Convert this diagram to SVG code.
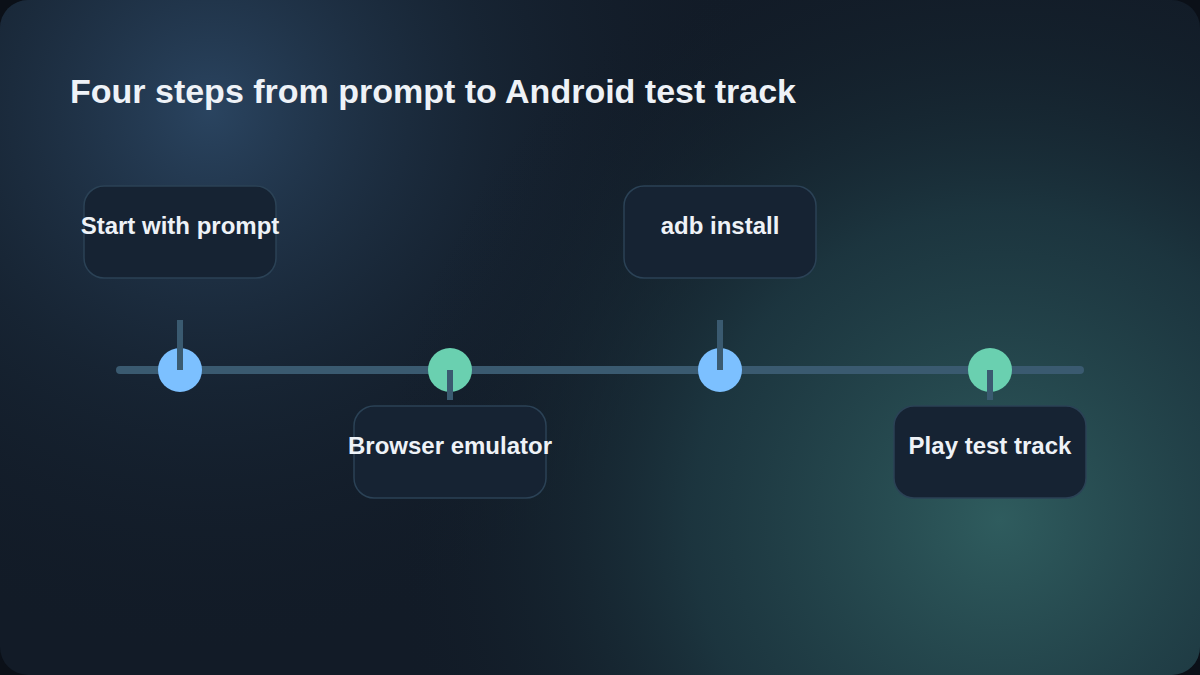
<svg xmlns="http://www.w3.org/2000/svg" width="1200" height="675" viewBox="0 0 1200 675">
<defs>
<radialGradient id="g1" cx="210" cy="110" r="560" gradientUnits="userSpaceOnUse">
<stop offset="0" stop-color="#2a4460"/>
<stop offset="0.5" stop-color="#1a2a3b" stop-opacity="0.6"/>
<stop offset="1" stop-color="#111a26" stop-opacity="0"/>
</radialGradient>
<radialGradient id="g2" cx="1000" cy="520" r="620" gradientUnits="userSpaceOnUse">
<stop offset="0" stop-color="#2f5c5e"/>
<stop offset="0.5" stop-color="#1f3d46" stop-opacity="0.75"/>
<stop offset="1" stop-color="#111a26" stop-opacity="0"/>
</radialGradient>
<style>
.box{fill:#162333;stroke:#2b4256;stroke-width:1.5}
.lbl{font-family:"Liberation Sans",Arial,sans-serif;font-weight:700;font-size:24px;fill:#eef2f7;text-anchor:middle}
.ttl{font-family:"Liberation Sans",Arial,sans-serif;font-weight:700;font-size:34px;fill:#eef2f7}
.tick{stroke:#3a5a70;stroke-width:6}
</style>
</defs>
<rect width="1200" height="675" fill="#0b1018"/>
<rect width="1200" height="675" rx="28" fill="#121b27"/>
<rect width="1200" height="675" rx="28" fill="url(#g1)"/>
<rect width="1200" height="675" rx="28" fill="url(#g2)"/>
<text class="ttl" x="70" y="103">Four steps from prompt to Android test track</text>
<g id="connectors">
<line x1="120" y1="370" x2="1080" y2="370" stroke="#3a5a70" stroke-width="8" stroke-linecap="round"/>
</g>
<g id="step1">
<rect class="box" x="84" y="186" width="192" height="92" rx="20"/>
<text class="lbl" x="180" y="234">Start with prompt</text>
<circle cx="180" cy="370" r="22" fill="#7cc0ff"/>
<line class="tick" x1="180" y1="320" x2="180" y2="370"/>
</g>
<g id="step2">
<rect class="box" x="354" y="406" width="192" height="92" rx="20"/>
<text class="lbl" x="450" y="454">Browser emulator</text>
<circle cx="450" cy="370" r="22" fill="#6ad0b0"/>
<line class="tick" x1="450" y1="370" x2="450" y2="400"/>
</g>
<g id="step3">
<rect class="box" x="624" y="186" width="192" height="92" rx="20"/>
<text class="lbl" x="720" y="234">adb install</text>
<circle cx="720" cy="370" r="22" fill="#7cc0ff"/>
<line class="tick" x1="720" y1="320" x2="720" y2="370"/>
</g>
<g id="step4">
<rect class="box" x="894" y="406" width="192" height="92" rx="20"/>
<text class="lbl" x="990" y="454">Play test track</text>
<circle cx="990" cy="370" r="22" fill="#6ad0b0"/>
<line class="tick" x1="990" y1="370" x2="990" y2="400"/>
</g>
</svg>
